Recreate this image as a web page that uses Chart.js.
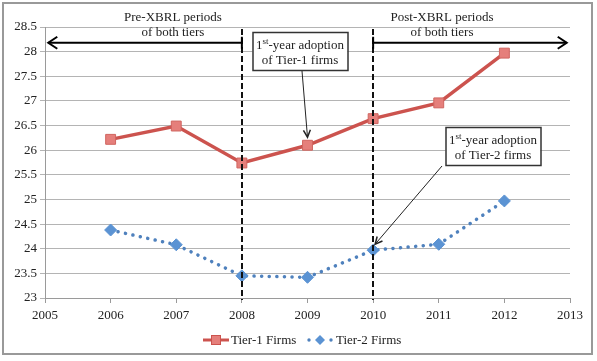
<!DOCTYPE html>
<html lang="en">
<head>
  <meta charset="UTF-8" />
  <title>Tier-1 vs Tier-2 Firms</title>
  <script src="https://cdn.jsdelivr.net/npm/chart.js"></script>
  <style>
    html, body { margin: 0; padding: 0; background: #fff; }
    #wrap { width: 597px; height: 361px; position: relative; }
  </style>
</head>
<body>
<div id="wrap"><canvas id="xbrlChart" width="597" height="361"></canvas></div>
<script>
  // data
  const years = [2006, 2007, 2008, 2009, 2010, 2011, 2012];
  const tier1 = [26.22, 26.49, 25.74, 26.1, 26.64, 26.96, 27.97];
  const tier2 = [24.38, 24.08, 23.45, 23.42, 23.97, 24.09, 24.97];
  const seriesNames = ["Tier-1 Firms", "Tier-2 Firms"];
  const xRange = [2005, 2013];
  const yRange = [23, 28.5];

  const FONT = "'Liberation Serif', 'Times New Roman', serif";
  const red = "#cc534e";
  const blue = "#4f81bd";

  // 1st-year adoption boxes + period arrows, drawn in data coordinates
  const annotate = {
    id: "annotate",
    afterDatasetsDraw(chart) {
      const ctx = chart.ctx;
      const xs = chart.scales.x, ys = chart.scales.y;
      const top = chart.chartArea.top, bottom = chart.chartArea.bottom;
      ctx.save();

      // dashed dividers at 2008 and 2010
      ctx.strokeStyle = "#111";
      ctx.lineWidth = 2;
      ctx.setLineDash([6, 3]);
      [2008, 2010].forEach(yr => {
        const x = Math.round(xs.getPixelForValue(yr));
        ctx.beginPath();
        ctx.moveTo(x, top + 2);
        ctx.lineTo(x, bottom + 2);
        ctx.stroke();
      });
      ctx.setLineDash([]);

      // period arrows
      const arrY = ys.getPixelForValue(28.18);
      function bigArrow(x1, x2) {
        ctx.strokeStyle = "#000";
        ctx.lineWidth = 2;
        ctx.beginPath();
        ctx.moveTo(x1, arrY);
        ctx.lineTo(x2, arrY);
        ctx.stroke();
        const d = x2 > x1 ? -1 : 1;
        ctx.beginPath();
        ctx.moveTo(x2 + d * 9, arrY - 6);
        ctx.lineTo(x2, arrY);
        ctx.lineTo(x2 + d * 9, arrY + 6);
        ctx.stroke();
        ctx.beginPath();
        ctx.moveTo(x1, arrY - 6);
        ctx.lineTo(x1, arrY + 6);
        ctx.stroke();
      }
      bigArrow(xs.getPixelForValue(2008), xs.getPixelForValue(2005.05));
      bigArrow(xs.getPixelForValue(2010), xs.getPixelForValue(2012.95));

      ctx.fillStyle = "#222";
      ctx.font = "13px " + FONT;
      ctx.textAlign = "center";
      ctx.textBaseline = "middle";
      const preX = xs.getPixelForValue(2006.95);
      const postX = xs.getPixelForValue(2011.05);
      ctx.fillText("Pre-XBRL periods", preX, 18);
      ctx.fillText("of both tiers", preX, 33);
      ctx.fillText("Post-XBRL periods", postX, 18);
      ctx.fillText("of both tiers", postX, 33);

      // callout box with superscript "st"
      function callout(cx, cy, w, h, line2, tx, ty, fromX) {
        ctx.fillStyle = "#fff";
        ctx.fillRect(cx - w / 2, cy - h / 2, w, h);
        ctx.strokeStyle = "#333";
        ctx.lineWidth = 1.5;
        ctx.strokeRect(cx - w / 2 + 0.5, cy - h / 2 + 0.5, w, h);
        ctx.fillStyle = "#222";
        ctx.textBaseline = "alphabetic";
        const a = "1", b = "-year adoption";
        ctx.font = "9px " + FONT;
        const supW = ctx.measureText("st").width;
        ctx.font = "13px " + FONT;
        const total = ctx.measureText(a).width + supW + ctx.measureText(b).width;
        let x = cx - total / 2;
        const base1 = cy - 2;
        ctx.textAlign = "left";
        ctx.fillText(a, x, base1);
        x += ctx.measureText(a).width;
        ctx.font = "9px " + FONT;
        ctx.fillText("st", x, base1 - 5);
        x += supW;
        ctx.font = "13px " + FONT;
        ctx.fillText(b, x, base1);
        ctx.textAlign = "center";
        ctx.fillText(line2, cx, cy + 13);

        // pointer arrow
        ctx.strokeStyle = "#222";
        ctx.lineWidth = 1;
        const sy = cy + h / 2 + 1;
        ctx.beginPath();
        ctx.moveTo(fromX, sy);
        ctx.lineTo(tx, ty);
        ctx.stroke();
        const ang = Math.atan2(ty - sy, tx - fromX);
        ctx.lineWidth = 1.5;
        ctx.beginPath();
        ctx.moveTo(tx - 8 * Math.cos(ang - 0.45), ty - 8 * Math.sin(ang - 0.45));
        ctx.lineTo(tx, ty);
        ctx.lineTo(tx - 8 * Math.cos(ang + 0.45), ty - 8 * Math.sin(ang + 0.45));
        ctx.stroke();
      }
      callout(300, 51, 95, 38, "of Tier-1 firms", xs.getPixelForValue(2009), ys.getPixelForValue(tier1[3]) - 8, 302);
      callout(493, 146, 95, 38, "of Tier-2 firms", xs.getPixelForValue(2010) + 2, ys.getPixelForValue(tier2[4]) - 6, 442);

      // legend (line + marker, office style)
      ctx.font = "13px " + FONT;
      ctx.textAlign = "left";
      ctx.textBaseline = "middle";
      const ly = 340;
      ctx.strokeStyle = red; ctx.lineWidth = 3;
      ctx.beginPath(); ctx.moveTo(203, ly); ctx.lineTo(229, ly); ctx.stroke();
      ctx.fillStyle = "#e57f7b"; ctx.fillRect(211, ly - 5, 10, 10);
      ctx.strokeStyle = red; ctx.lineWidth = 1; ctx.strokeRect(211.5, ly - 4.5, 9, 9);
      ctx.fillStyle = "#222"; ctx.fillText(seriesNames[0], 231, ly + 1);
      ctx.fillStyle = blue;
      [309, 331].forEach(dx => { ctx.beginPath(); ctx.arc(dx, ly, 1.7, 0, Math.PI * 2); ctx.fill(); });
      ctx.fillStyle = "#5b93d3";
      ctx.beginPath();
      ctx.moveTo(320, ly - 5); ctx.lineTo(325, ly); ctx.lineTo(320, ly + 5); ctx.lineTo(315, ly);
      ctx.closePath(); ctx.fill();
      ctx.fillStyle = "#222"; ctx.fillText(seriesNames[1], 336, ly + 1);

      // outer frame
      ctx.strokeStyle = "#999";
      ctx.lineWidth = 2;
      ctx.strokeRect(3, 3, 589, 351);
      ctx.restore();
    }
  };

  new Chart(document.getElementById("xbrlChart"), {
    type: "line",
    data: {
      datasets: [
        {
          label: seriesNames[0],
          data: years.map((y, i) => ({ x: y, y: tier1[i] })),
          borderColor: red,
          borderWidth: 3.5,
          backgroundColor: "#e57f7b",
          pointStyle: "rect",
          pointRadius: 7,
          pointBorderColor: "#d06560",
          pointBorderWidth: 1,
          tension: 0
        },
        {
          label: seriesNames[1],
          data: years.map((y, i) => ({ x: y, y: tier2[i] })),
          borderColor: blue,
          borderWidth: 3.5,
          borderDash: [0.1, 7.5],
          borderCapStyle: "round",
          backgroundColor: "#5b93d3",
          pointStyle: "rectRot",
          pointRadius: 6,
          pointBorderColor: "#5b93d3",
          pointBorderWidth: 1,
          tension: 0
        }
      ]
    },
    options: {
      responsive: false,
      animation: false,
      layout: { padding: { left: 2, right: 27, top: 27, bottom: 40 } },
      plugins: { legend: { display: false }, tooltip: { enabled: false } },
      scales: {
        x: {
          type: "linear",
          min: xRange[0],
          max: xRange[1],
          afterFit: s => { s.height = 23; },
          ticks: { stepSize: 1, color: "#222", font: { family: FONT, size: 13 }, padding: 5,
                   callback: v => String(v) },
          grid: { drawOnChartArea: false, drawTicks: true, tickLength: 5, color: "#9a9a9a" },
          border: { color: "#9a9a9a", width: 1 }
        },
        y: {
          min: yRange[0],
          max: yRange[1],
          afterFit: s => { s.width = 43; },
          ticks: { stepSize: 0.5, color: "#222", font: { family: FONT, size: 13 }, padding: 3,
                   callback: v => String(v) },
          grid: { color: "#b4b4b4", lineWidth: 1, tickLength: 5 },
          border: { color: "#9a9a9a", width: 1 }
        }
      }
    },
    plugins: [annotate]
  });
</script>
</body>
</html>
